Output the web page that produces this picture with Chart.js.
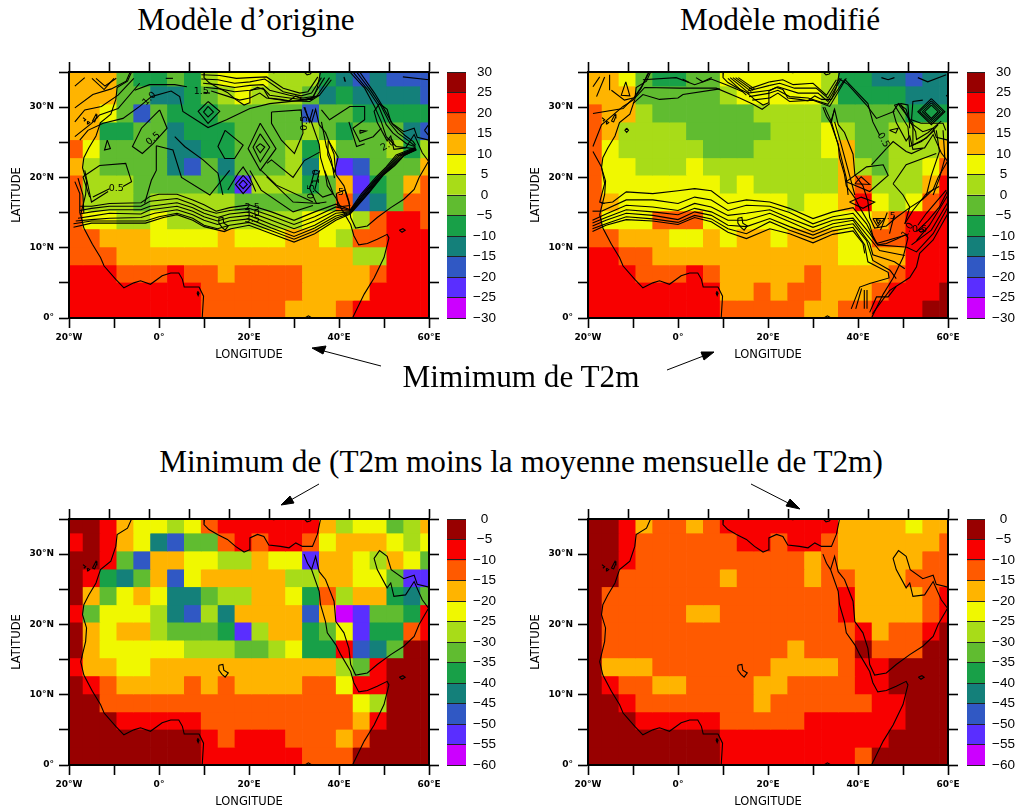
<!DOCTYPE html>
<html lang="fr"><head><meta charset="utf-8"><title>T2m</title>
<script src="https://cdn.jsdelivr.net/npm/chart.js@4"></script>
<style>
html,body{margin:0;padding:0;background:#fff;width:1021px;height:811px;overflow:hidden}
canvas{position:absolute}
.t{position:absolute;font-family:"Liberation Serif",serif;font-size:31.2px;color:#000;white-space:nowrap;transform:translate(-50%,-50%);line-height:1}
svg{position:absolute;left:0;top:0}
</style></head><body>
<canvas id="m1" width="445" height="302" style="left:0;top:60px"></canvas>
<canvas id="m2" width="445" height="302" style="left:519px;top:60px"></canvas>
<canvas id="m3" width="445" height="302" style="left:0;top:507px"></canvas>
<canvas id="m4" width="445" height="302" style="left:519px;top:507px"></canvas>
<canvas id="c1" width="70" height="302" style="left:440px;top:60px"></canvas>
<canvas id="c2" width="61" height="302" style="left:960px;top:60px"></canvas>
<canvas id="c3" width="70" height="302" style="left:440px;top:507px"></canvas>
<canvas id="c4" width="61" height="302" style="left:960px;top:507px"></canvas>
<div class="t" style="left:246px;top:20px">Modèle d’origine</div>
<div class="t" style="left:780px;top:20px">Modèle modifié</div>
<div class="t" style="left:521px;top:377px">Mimimum de T2m</div>
<div class="t" style="left:521px;top:462px">Minimum de (T2m moins la moyenne mensuelle de T2m)</div>
<svg width="1021" height="811">
<g stroke="#000" stroke-width="1" fill="#000">
<line x1="381" y1="366" x2="320" y2="350"/><polygon points="312,348 326,346 323,354"/>
<line x1="667" y1="370" x2="706" y2="355"/><polygon points="714,352 704,360 701,352"/>
<line x1="319" y1="484" x2="289" y2="501"/><polygon points="281,505 290,496 294,503"/>
<line x1="751" y1="484" x2="792" y2="505"/><polygon points="800,509 786,506 790,499"/>
</g></svg>
<script>
const lonCentres=[-18.75,-15,-11.25,-7.5,-3.75,0,3.75,7.5,11.25,15,18.75,22.5,26.25,30,33.75,37.5,41.25,45,48.75,52.5,56.25,60];
const latEdges=[35,33,30.44,27.87,25.36,22.79,20.32,17.76,15.24,12.68,10.11,7.55,5.08,2.52,0];
const levelColors=['#cc00ff','#5a2eff','#3058c4','#14807a','#18a048','#60bc30','#a8dc18','#f0f800','#ffb400','#ff5a00','#f80000','#980000'];
const xTickValues=[-20,-10,0,10,20,30,40,50,60];
const xTickLabels=['20°W','','0°','','20°E','','40°E','','60°E'];
const yTickLabels=['0°','','10°N','','20°N','','30°N',''];
const levelsA=[30,25,20,15,10,5,0,-5,-10,-15,-20,-25,-30];
const levelsB=[0,-5,-10,-15,-20,-25,-30,-35,-40,-45,-50,-55,-60];

const t2mOrigine=[
[10,10,10,-5,-10,-10,-5,-10,0,5,5,5,0,0,0,-10,-15,-20,-15,-20,-20,-20],
[10,10,10,-5,-5,-15,-15,-10,-5,0,5,0,0,0,-5,-15,-10,-15,-15,-15,-15,-20],
[10,10,5,-5,-20,-5,-10,-10,-10,-5,-5,-5,-5,-5,-20,-5,-5,-10,-10,-10,-10,-10],
[10,10,-10,-10,-5,-5,-15,-10,-10,-10,-5,-5,-5,-5,0,-5,-10,-5,-5,-5,-15,-20],
[15,5,-5,-5,-5,-5,-15,-15,-10,-10,-5,-5,-5,0,-10,5,-5,-5,-5,0,-10,0],
[10,0,-5,-5,-5,-5,-15,-20,-5,-15,-5,-5,-5,0,-15,5,-25,-20,-5,-5,-5,10],
[15,0,0,0,-5,-5,-5,-5,-5,-10,-25,0,0,0,-10,-5,10,-25,-10,-5,10,15],
[15,0,0,0,-5,0,0,0,0,0,-5,-5,-5,-5,-5,-5,15,-20,-15,-5,15,15],
[15,5,5,0,0,5,0,0,0,0,0,0,0,0,5,5,5,0,15,20,20,15],
[15,15,10,10,10,5,5,5,5,10,5,5,5,10,10,5,0,15,15,20,20,20],
[15,15,15,10,10,10,10,10,10,10,10,10,10,10,10,10,10,0,0,20,20,20],
[20,20,20,15,15,15,20,15,15,10,15,15,15,15,10,10,10,10,15,20,20,20],
[20,20,20,20,20,20,20,20,15,15,15,15,15,15,10,10,10,10,20,20,20,20],
[20,20,20,20,20,20,20,20,15,15,15,15,15,10,10,10,15,20,20,20,20,20]];
const t2mModifie=[
[10,10,5,-5,-10,-10,-5,-5,5,5,5,5,5,5,0,-10,-10,-15,-15,-20,-15,-15],
[10,10,10,-5,-5,-5,-5,-5,0,5,5,5,5,5,0,-10,-10,-10,-10,-15,-15,-15],
[15,10,10,0,-5,-5,-5,-5,-5,-5,0,0,0,0,-5,-5,-5,-5,-5,-10,-10,-10],
[15,10,0,0,0,0,-5,-5,-5,-5,-5,0,0,0,5,0,-5,-5,0,0,0,0],
[15,5,0,0,0,0,0,-5,-5,-5,0,0,0,0,5,10,-5,-5,0,0,0,10],
[15,5,5,0,0,0,5,0,0,0,0,0,0,0,0,10,0,-5,0,0,5,15],
[15,5,5,5,5,5,5,5,0,5,0,0,0,0,0,10,15,0,0,0,10,20],
[15,10,5,5,5,5,5,5,5,5,5,5,0,5,5,10,20,5,0,5,15,20],
[15,5,5,5,15,15,15,5,5,5,5,5,5,5,5,5,5,10,15,20,20,20],
[15,15,10,10,10,5,5,10,5,10,10,5,10,10,10,5,5,15,15,20,20,20],
[20,20,15,15,10,10,10,10,10,10,10,10,10,10,10,5,5,10,10,20,20,20],
[20,20,20,15,15,15,20,15,10,10,10,10,10,15,10,10,10,10,15,20,20,20],
[20,20,20,20,20,20,20,20,10,10,15,10,15,15,10,10,10,15,20,20,20,25],
[20,20,20,20,20,20,20,20,15,15,15,15,15,10,10,15,15,20,20,20,25,25]];
const anomOrigine=[
[-5,-5,-10,-20,-25,-25,-30,-25,-15,-10,-10,-10,-10,-10,-10,-20,-30,-25,-25,-35,-30,-20],
[-10,-5,-10,-20,-25,-45,-50,-35,-35,-15,-10,-15,-10,-10,-15,-25,-20,-20,-20,-25,-30,-25],
[-5,-5,-10,-35,-50,-20,-20,-25,-25,-30,-30,-20,-25,-25,-55,-20,-20,-25,-30,-20,-25,-35],
[-5,-10,-40,-45,-35,-20,-50,-25,-20,-20,-20,-20,-20,-30,-30,-20,-20,-25,-25,-35,-55,-55],
[-5,-20,-35,-25,-20,-25,-45,-45,-35,-30,-30,-20,-20,-25,-40,-15,-30,-20,-20,-40,-45,-35],
[-10,-35,-25,-25,-25,-30,-45,-50,-30,-45,-20,-20,-20,-20,-50,-20,-60,-55,-35,-35,-40,-10],
[-5,-20,-25,-20,-20,-30,-35,-35,-35,-40,-55,-30,-20,-20,-40,-35,-25,-55,-40,-40,-15,-10],
[-5,-20,-25,-25,-25,-25,-25,-30,-30,-30,-35,-35,-30,-25,-40,-40,-10,-50,-45,-35,-5,-5],
[-10,-20,-20,-25,-25,-20,-20,-20,-20,-20,-20,-20,-20,-20,-20,-20,-30,-35,-10,-5,-5,-5],
[-5,-10,-15,-20,-20,-20,-20,-15,-20,-15,-20,-20,-20,-20,-15,-15,-25,-10,-10,-5,-5,-5],
[-5,-5,-15,-15,-15,-15,-15,-15,-15,-15,-15,-15,-15,-15,-15,-15,-15,-25,-30,-5,-5,-5],
[-5,-5,-5,-10,-10,-10,-10,-10,-15,-15,-15,-15,-15,-15,-15,-15,-15,-20,-10,-5,-5,-5],
[-5,-5,-5,-5,-5,-5,-5,-5,-10,-15,-10,-10,-10,-15,-15,-15,-20,-15,-5,-5,-5,-5],
[-5,-5,-5,-5,-5,-5,-5,-5,-10,-10,-10,-10,-10,-10,-15,-15,-15,-5,-5,-5,-5,-5]];
const anomModifie=[
[-5,-5,-10,-20,-15,-15,-20,-15,-10,-10,-10,-10,-10,-10,-10,-20,-20,-20,-20,-25,-20,-20],
[-5,-5,-10,-15,-15,-15,-15,-15,-15,-10,-10,-15,-10,-10,-15,-20,-20,-20,-20,-20,-20,-15],
[-5,-5,-10,-15,-15,-15,-15,-15,-15,-15,-15,-15,-15,-20,-15,-20,-20,-20,-20,-20,-15,-15],
[-5,-5,-15,-15,-15,-15,-15,-15,-20,-15,-15,-15,-15,-20,-15,-15,-20,-20,-20,-15,-15,-15],
[-5,-15,-15,-15,-15,-15,-15,-15,-15,-15,-15,-15,-15,-15,-15,-10,-20,-20,-20,-20,-15,-10],
[-5,-15,-15,-15,-15,-15,-20,-20,-15,-15,-15,-15,-15,-15,-15,-10,-20,-20,-20,-20,-15,-10],
[-5,-15,-15,-15,-15,-15,-15,-15,-15,-15,-15,-15,-15,-15,-15,-15,-10,-20,-15,-15,-10,-5],
[-5,-15,-15,-15,-15,-15,-15,-15,-15,-15,-15,-15,-20,-15,-15,-15,-5,-15,-15,-15,-5,-5],
[-5,-20,-20,-20,-15,-15,-15,-15,-15,-15,-15,-20,-20,-20,-20,-15,-10,-10,-5,-5,-5,-5],
[-5,-10,-15,-15,-20,-20,-15,-15,-15,-15,-20,-20,-15,-15,-15,-15,-10,-10,-5,-5,-5,-5],
[-5,-5,-10,-15,-15,-15,-15,-15,-15,-15,-20,-15,-15,-15,-15,-15,-15,-10,-10,-5,-5,-5],
[-5,-5,-5,-10,-10,-10,-10,-10,-15,-15,-15,-15,-15,-10,-10,-10,-10,-10,-10,-5,-5,-5],
[-5,-5,-5,-5,-5,-5,-5,-5,-10,-10,-10,-10,-10,-10,-10,-10,-10,-10,-5,-5,-5,-5],
[-5,-5,-5,-5,-5,-5,-5,-5,-10,-10,-10,-10,-10,-10,-10,-10,-15,-5,-5,-5,-5,-5]];

const coast=[
[[-6.1,35],[-7,33.7],[-9.3,32.8],[-9.6,31.1],[-10.7,29],[-13,27.8],[-14,25.9],[-15.6,24.2],[-16.7,22.8],[-17,21.4],[-16.1,19.5],[-16.3,17.6],[-17.4,14.7],[-16.7,12.8],[-14.8,10.5],[-13,8.6],[-12.2,7.4],[-9.6,5.5],[-7.8,4.3],[-5.6,5],[-4.1,5.3],[-1.9,4.8],[0.7,6],[2.6,6.4],[4.4,6.4],[5.2,5.5],[5.6,4.4],[8.9,4.4],[9.9,3.1],[9.6,0]],
[[10.1,35],[10,34.2],[11.1,33.5],[13,32.8],[15.2,32.1],[17,31.1],[18.9,30.3],[20,30.6],[20.2,32.3],[21.9,32.8],[23.3,32.5],[24.4,31.3],[27,31.1],[28.9,30.9],[30.4,31.6],[31.9,31.1],[34.1,31.1],[35.2,32.8],[35.9,35]],
[[32.2,30],[33,28.7],[33.9,27.8],[35.6,24.7],[35.9,22.8],[37,20.4],[37.4,18.8],[39.3,17.1],[40.4,15.7],[42.6,13.3],[43.3,11.7],[44.4,10.4],[46.3,10.6],[48.5,11.2],[50.7,11.9],[51.1,11.4],[50,8.6],[47.8,5.7],[45.6,3.4],[43,0]],
[[33.9,27.8],[34.8,29.7],[35.6,27.5],[37,26.4],[38.9,23.3],[39.3,20.4],[41.1,18.8],[42.2,16.6],[42.6,14.3],[43.7,12.8],[46.3,13.1],[48.5,14.3],[51.5,15.7],[54.4,16.9],[56.7,18.3],[57.8,20],[59.9,22.3],[58.5,23.5],[56.7,26.1],[54.8,24.2],[52.2,24],[51.5,25.9],[50.7,25.2],[48.5,27.8],[47.8,29.4],[49,30.5],[50.7,29.7],[51.6,27.8],[54.4,26.5],[56.7,27],[57.4,25.7],[60,25.3]],
[[13.3,14.2],[14.2,14.3],[14.4,13.5],[15.4,13.1],[14.7,12.5],[14,12.9],[13.3,13.5],[13.3,14.2]],
[[-16.9,28.5],[-16.3,28.2],[-16.7,28]],[[-15.9,28],[-15.4,27.8],[-15.8,27.6],[-15.9,28]],[[-14.8,28],[-14,29],[-13.8,28.7],[-14.3,27.9],[-14.8,28]],
[[8.6,3.8],[8.9,3.5],[8.7,3.2],[8.5,3.5],[8.6,3.8]],
[[53.4,12.5],[54.2,12.7],[54.7,12.5],[54,12.2],[53.4,12.5]],
[[32.3,35],[32.9,34.6],[33.6,34.7],[34,35]],[[24.6,35],[25.5,34.9],[26.4,35]],[[32.4,0],[33.2,0.3],[34,0]]];

const contoursOrigine=[
[[-17.5,15.9],[-15,15.9],[-11,16.3],[-4,16.4],[-2,17.3],[0,17.6],[4,17.6],[7.5,16.8],[10,16.1],[12.7,15.2],[15.7,15.7],[20,16.1],[25,15.1],[30,13.9],[34.6,15.1],[39.3,16.2],[42.5,15.4],[45,17.7],[48.3,20.1],[50.5,21.5],[52.7,23.2],[57,24.3]],
[[-17.6,15.3],[-15,15.6],[-11,15.9],[-4,15.9],[-2,16.6],[4,17],[7.5,16.2],[10,15.4],[12.7,14.9],[15.7,15.3],[20,15.6],[25,14.5],[30,13.3],[34.6,14.4],[39.3,15.8],[42.5,15.3],[45.2,17.6],[48.5,20],[50.8,21.5],[53,23.1],[57,24.2]],
[[-17.7,14.8],[-15,15.1],[-11,15.4],[-4,15.4],[-2,15.9],[4,16.4],[7.5,15.7],[10,14.9],[13,14.3],[15.7,14.8],[20,15.1],[25,13.9],[30,12.7],[34.6,13.8],[39.3,15.3],[42.5,15.2],[45.5,17.6],[48.8,20.1],[51.1,21.5],[53.4,23.1],[57,24.1]],
[[-18,14.2],[-15,14.5],[-11,14.9],[-4,14.8],[-2,15.4],[4,15.9],[7.5,15.2],[10,14.4],[13,13.8],[15.7,14.3],[20,14.6],[25,13.3],[30,12.1],[34.6,13.2],[39.3,14.9],[42.5,15.1],[45.8,17.7],[49.1,20.1],[51.5,21.6],[53.8,23.1],[57.1,24.1]],
[[-18.5,13.8],[-15,14],[-11,14.2],[-4,14.3],[-1,14.9],[4,15.4],[7.5,14.7],[10,13.9],[13,13.3],[15.7,13.8],[20,14.1],[25,12.8],[30,11.6],[34.6,12.8],[39.3,14.5],[42.5,15],[46.1,17.7],[49.4,20.2],[51.8,21.6],[54.2,23.1],[57.1,24]],
[[-19,13.4],[-15,13.8],[-8,13.8],[-3,13.8],[0,14.4],[4,14.9],[7.5,14.2],[10,13.2],[13,12.7],[15.7,13.2],[20,13.6],[25,12.4],[30,11.2],[34.6,12.4],[39.3,14.2],[42.5,14.9],[46.5,17.8],[49.6,20.3],[52.1,21.6],[54.4,23.1],[57.2,24]],
[[-19,12.9],[-15,13.5],[-8,13.5],[-3,13.5],[1,14.3],[4,14.7],[7.5,13.9],[10,13],[14.5,12.3],[16,12.7],[20,13.2],[25,12],[30,10.8],[34.6,12],[39.3,13.9],[42.5,14.8],[46.8,17.9],[49.8,20.3],[52.4,21.7],[54.6,23.2],[57.2,23.9]],
[[42.4,35],[45.7,32.7],[47.9,30.1],[49.4,27.9],[50.5,25.8],[52.7,24.4],[56.8,24.1]],
[[43.1,35],[46.5,32.4],[48.7,30.3],[50.5,27.5],[52,26.3],[55,24.8],[56.8,24.4]],
[[43.9,35],[47.2,32.2],[49.4,30.1],[51.3,27.7],[53.1,26.3],[55.7,25.1],[57,24.4]],
[[44.6,35],[47.9,32],[49.8,30],[52,27.5],[54.6,26],[56.5,25.1],[57,24.6]],
[[-6.4,35],[-7.3,33.7],[-10.6,32.6],[-14.7,31.8],[-18.7,29.9]],
[[-5.6,34.1],[-9.1,31.7],[-12.8,30.1],[-16.5,29.6],[-18.7,27.9]],
[[-4.3,33.4],[-9.1,29.8],[-13.2,28.9],[-15,27.7],[-18.7,25.8]],
[[-1.7,31.5],[-4.3,30.1],[-8,28.4],[-12.4,27.7],[-15.8,26.7],[-17.6,25.3]],
[[-5.4,32.4],[-2.1,33.2],[3.5,33.2],[6.2,32.9]],[[9.9,32.1],[11.3,32]],
[[-1.7,31.5],[2.7,32.3],[4.6,31.5],[5.3,29.4],[10.9,27.1],[15,28.2],[20.2,29.8],[24.6,30.5],[32,31],[35.7,31.7]],
[[9.4,34.6],[13.5,34.5],[17.2,34.1],[20.2,34.2],[23.9,34.3],[27.6,32.7],[31.3,32],[33.1,32.2],[35.3,34.3]],
[[9.4,34],[13.1,33.9],[16.8,33.4],[20.2,33.6],[23.5,34],[27.6,32.2],[31.6,31.6],[33.9,32],[36.1,34.2]],
[[9.8,33.4],[13.1,33.2],[16.8,32.8],[20.2,33.1],[23.1,33.2],[24.6,32.4],[29,31.7],[32,31.3],[34.2,31.5],[36.8,34.2]],
[[10.5,32.8],[13.5,32.6],[16.8,32.2],[20.2,32.4],[23.1,32.7],[24.6,31.7],[29,31.3],[32.7,31],[35,31.5],[37.9,34.2]],
[[11.6,32.3],[15,31.6],[17.9,31],[20.2,31.3],[22.4,32],[23.9,31.3],[28.3,30.9],[33.5,30.8],[35.7,31.7],[38.3,33.9]],
[[10.9,30.8],[13.5,29.4],[10.9,27.7],[8.7,29.4],[10.9,30.8]],[[10.9,30.1],[12.1,29.3],[10.9,28.6],[9.9,29.3],[10.9,30.1]],
[[-11.5,25.3],[-10.8,24.1],[-12.1,23.9],[-11.5,25.3]],
[[0.15,29.6],[1.8,27],[-1.3,24.8],[-3.7,23.4],[-5.9,24.4],[-3.9,27],[0.15,29.6]],
[[14.7,26.7],[18.7,24.6],[16.8,22.7],[14.6,22.7],[13.1,24.4],[14.7,26.7]],
[[-16.9,20.1],[-13.2,21.7],[-7.4,22],[-6.1,19.4],[-8,18.7]],[[-11,18.4],[-14.7,17.2]],[[-16.9,20.1],[-15.4,17.2]],
[[22.5,27.7],[26,24.1],[22.5,21],[19.8,24.1],[22.5,27.7]],[[22.5,26.2],[24.6,24.3],[22.5,22.2],[20.9,24.3],[22.5,26.2]],[[22.5,24.8],[23.5,24.3],[22.5,23.5],[21.6,24.3],[22.5,24.8]],
[[18.7,20.3],[20.5,19],[18.7,17.7],[17,19],[18.7,20.3]],[[18.7,19.6],[19.6,19],[18.7,18.4],[17.8,19],[18.7,19.6]],
[[15.3,18.2],[17.6,20.6],[18.7,21.5],[20.1,20.1],[21.5,18]],
[[25,29.3],[31.6,29.6],[32,26.3],[30.1,23.4],[27.2,25.3],[25,27.7],[25,29.3]],
[[24,22],[25,22.5],[29.8,20],[32.3,22.4],[35.7,23.6]],
[[23.9,20.1],[29.8,16.5],[35.7,16.3]],
[[34.6,21],[33.5,18.4],[35,16.3],[37.2,16.5]],[[35.7,21],[34.6,18.2],[36.4,17.2],[38.7,17.7],[37.9,19.1],[36.8,21]],
[[22.7,21],[26.1,18.9],[34.2,16.5]],[[20.2,21],[22.7,18.2],[29.8,15.1],[34.2,16]],
[[39.4,17.7],[41.3,18.2],[42.4,16],[39.8,15.8],[39.4,17.7]],
[[36.1,29.6],[37.9,28.2],[42.4,30.1],[45.7,30.1],[45.7,28.2],[43.1,27],[44.6,25.1],[47.6,25.8],[49.4,27]],
[[44.6,26.7],[46,26.6],[44.7,26.3],[44.6,26.7]],[[42.2,27.9],[43.9,24.4],[45.7,24.8]],
[[36.1,27.9],[37.2,24.4],[38.3,22.5],[39,19.9]],[[37.6,25.3],[39.8,22.9],[39,20.8],[37.5,23.2],[37.6,25.3]],
[[41.1,34.3],[41.3,33.7]],[[54.2,34.3],[60,33.9]],[[59,26.7],[59.9,27.5],[59.9,26],[59,26.7]],
[[-18.7,19.4],[-17.6,17.7],[-17.6,14.9]],[[-18,19.9],[-16.9,17.5],[-16.7,14.9]],
[[-16.5,21],[-15,16.5],[-11.3,18]],
[[-0.6,24.5],[3.1,23.9],[5,20],[11.3,17.5],[15.7,21]],[[-0.6,24.5],[-0.6,21],[-1.7,19.6],[-3.2,16.3]],
[[3.5,25.8],[5.7,24.4],[9.8,22.5],[13.1,20.6],[14.2,17.5]],
[[-18.7,33],[-16.5,34.2]],[[-14.9,34.1],[-12.2,32.5],[-10,34.1]],[[-14,34.1],[-12,33],[-9.5,34.1]],[[1.5,34.1],[3.1,34.1]],
[[32.4,30],[33.4,27.9],[34.2,29.7]],[[41.2,34.2],[41.4,33.6]]];

const contoursModifie=[
[[-17,16.3],[-14.5,16.5],[-11.5,17.95],[-5.6,17.7],[0,18.1],[3.7,18.4],[7.4,18.1],[11.1,16.3],[15.2,16.8],[20.4,16.5],[24.8,15.6],[30,14.15],[34.4,15.1],[38.9,15.7],[41.9,13.4],[44.1,10.6],[50.7,11.8]],
[[-17,15.2],[-11.5,16.8],[-5.6,16.8],[0,16.3],[3.7,17.2],[7.4,16.8],[11.1,15.3],[15.2,16.05],[20.4,15.9],[24.8,15],[30,13.4],[34.4,14.4],[38.9,14.9],[42.6,12],[44.4,10.4],[50.4,10.1]],
[[-19,13.9],[-16,14.8],[-11.5,16.05],[-5.6,15.8],[0,15.3],[3.7,16.3],[7.4,15.8],[11.1,14.6],[15.2,14.9],[20.4,15.4],[24.8,14.2],[30,12.9],[34.4,13.9],[38.9,14.2],[42.9,11.1],[44.8,9.6],[50.4,8.9]],
[[-19,13.5],[-16,14.3],[-11.5,15.4],[-5.6,15.1],[0,14.7],[3.7,15.6],[7.4,15.1],[11.1,13.9],[15.2,13.9],[20.4,14.9],[24.8,13.7],[30,12.25],[34.4,13.4],[38.9,13.9],[42.6,10.6],[43.3,9],[48.1,8],[50.4,7]],
[[-19,13.1],[-16,13.9],[-11.5,14.9],[-5.6,14.6],[0,14],[3.7,15.1],[7.4,14.6],[11.1,13.2],[15.2,13],[20.4,14.15],[24.8,13],[30,11.8],[34.4,12.9],[38.9,13.4],[41.9,11],[43.3,8.2],[47.1,6.8],[48.5,5.6]],
[[-19,12.7],[-16,13.4],[-11.5,14.4],[-5.6,14.1],[0,13.6],[3.7,14.6],[7.4,14.1],[11.1,12.7],[15.2,12],[20.4,13.7],[24.8,12.5],[30,11.3],[34.4,12.4],[38.9,12.9],[41.5,10.4],[42.2,8],[46.7,6.5],[46.9,5.7],[42.6,4.9],[40.4,4.4],[38.5,1.3]],
[[-19,12.3],[-16,13.2],[-11.5,14],[-5.6,13.8],[0,13.3],[3.7,14.3],[7.4,13.7],[11.1,12.2],[15.2,11.3],[20.4,12.7],[24.8,12],[30,10.7],[34.4,11.9],[38.9,12.4],[41.1,10.6],[41.5,9.2]],
[[-19,15.2],[-17,15.2]],
[[43.2,0.6],[47,3.9],[51.5,5.75],[53,7.3],[53.7,9.2],[56.7,11.1],[60,14.9]],
[[50.7,10.1],[53,9.4],[56.7,12],[60,15.8]],[[51.9,10.4],[56.3,12.5],[60,16.5]],[[53,11],[55.9,13.2],[60,17.5]],
[[53,12.3],[55.6,13.9],[58.1,15.8],[60,18.2]],[[53.3,13.2],[55.2,14.9],[59.6,18.2]],[[50.4,13.4],[52.2,15.3],[55.2,17.7],[58,18.7]],
[[40.8,4.2],[39.5,1.3]],[[41.4,4],[41.4,1.3]],[[42,4],[42,1.3]],[[42.6,0.8],[44.1,3],[46.7,3],[48.5,4.5]],
[[20.4,33.6],[23.3,33.9],[25.6,33.2],[30,33.4],[33,31.7],[35.2,33.9]],
[[20.4,33.1],[22.6,33.4],[25.9,32.7],[30.7,32.7],[33.3,31.3],[35.9,34.1]],
[[20.4,32.4],[22.2,32.9],[26.7,32],[31.1,32],[33.3,30.8],[36.3,34.1]],
[[20.4,32],[22.2,32.4],[24.8,31.5],[28.9,31.3],[33.3,30.4],[37,33.9]],
[[20.4,31.3],[22.2,32],[24.8,30.8],[30,31],[33.7,30.1],[37.4,34.1]],
[[15.8,32.6],[20.4,33.6]],[[15.5,32.3],[20.4,33.1]],[[15.5,32],[20.4,32.4]],[[15.8,31.5],[20.4,32]],[[16.5,31],[20.4,31.3]],
[[-7.8,33.9],[-0.4,34.2],[3.7,33.2],[7.4,34],[10.7,33.2],[14.4,32.2]],
[[-9.6,31.3],[-7.4,32.8],[0.4,32.7],[3.7,32.7],[8.5,32.7],[13.7,31.3],[16.7,30.4],[18.7,29.7],[20.4,30.5]],
[[-10,30.5],[-7.8,31.8],[-4.1,31.1],[0,31.3],[1.1,31.8],[9.3,32.6]],
[[11.1,34.1],[15.2,31.7]],[[11.6,34.2],[15.8,32]],[[12.2,34.2],[16.3,32.2]],[[12.8,34.2],[16.7,32.4]],[[13.4,34.2],[17,32.6]],
[[-18.9,32.9],[-17.4,34.3]],[[-18.1,31.5],[-16.3,34.3]],
[[-11.6,33.6],[-10.7,31.6],[-12.6,31.7],[-11.6,33.6]],[[-15.2,34.6],[-15.2,32.4]],
[[-18.9,29.1],[-12.2,29.8],[-9.6,31.5],[-7.8,33.2],[-6.4,35]],
[[-18.9,24.4],[-17,27.5],[-12.2,30.1],[-10,31],[-8.2,32.7],[-6.7,34.8]],
[[-14.8,32.4],[-11.9,31],[-10,31.3]],
[[-11.4,27],[-11,26.7],[-11.4,26.4],[-11.8,26.7],[-11.4,27]],
[[-18.9,23.7],[-17,21.5],[-16.3,19.1],[-17.4,16.5],[-16.3,16.3]],
[[4,34.2],[5.5,33.6],[7.5,34.2]],[[1,34],[2.5,33.5]],
[[32.6,30],[34.1,27.9],[34.8,29.8]],
[[34.1,27.9],[35.6,24.6],[37.4,19.9],[37.8,17.5]],[[34.8,27.9],[36.3,24.6],[38.5,19.4],[39.3,17.5]],
[[37.4,19.4],[41.9,21.5],[45.6,21.8],[46.7,20.3],[42.6,18],[37.4,19.4]],[[39.3,19.1],[42.6,19],[40.7,20.1],[39.3,19.1]],
[[35.9,34],[37.8,33.2],[41.9,30.3],[44.1,28.4],[48.1,29.4]],
[[37,34],[42.2,30.5],[43.3,27.9],[44.8,26]],[[46.3,24.1],[43,21.8]],
[[48.1,30.3],[49.6,30.5],[51.1,30.3],[51.5,27]],
[[48.1,30.3],[51.1,27.2],[51.5,24.4],[54.1,25.1],[57,26.7]],[[48.9,30.5],[52.2,27.7],[52.2,24.6],[55.2,25.6],[57.8,27.5]],
[[49.6,30.3],[52.8,26.5],[53,25.4],[55.6,26.4],[58.5,28]],
[[47,26.7],[48.9,27],[48.4,26.3],[47,26.7]],
[[54.4,31],[52.2,30.8],[51.9,28.2],[54,27.7],[58.9,27.7],[59.5,26.7]],
[[57.4,26.7],[58.1,23.7],[56.3,20.3],[55.2,17.5]],[[58.9,26.7],[59.3,22.7],[58.1,19.9],[56.7,17.5]],
[[47.8,19.1],[50.7,21.8],[57.4,23.4]],[[47.8,19.1],[50,17.5],[51.5,15.8],[50.4,13.4]],
[[46.3,24.1],[47.8,25.1],[50.7,23.7],[51.9,23.4],[54.4,24.1]],
[[45.2,34.2],[46.7,33.9],[48.1,34.2]],[[53.3,34.2],[55.5,33.6],[59.6,34.6]],[[59.6,31.7],[60,31.4]],
[[56.3,31.2],[59.3,29.35],[56.3,27.5],[53.3,29.35],[56.3,31.2]],[[56.3,30.9],[58.9,29.35],[56.3,27.8],[53.7,29.35],[56.3,30.9]],[[56.3,30.6],[58.3,29.35],[56.3,28.1],[54.3,29.35],[56.3,30.6]],[[56.3,30.3],[57.8,29.35],[56.3,28.4],[54.8,29.35],[56.3,30.3]],
[[38.1,16.5],[40.7,17.2],[43.7,16.5],[41.1,15.6],[38.1,16.5]],
[[43.3,14.15],[45.9,14.15],[44.4,13],[43.3,14.15]],[[44,14],[45,13.9],[44.5,13.4],[44,14]],
[[46.5,15],[45,12.5]],[[48,14.5],[47,12]]];

const labelsOrigine=[
{lon:9.4,lat:32.2,text:'1.5',rot:0},{lon:-2.1,lat:31.2,text:'1.0',rot:-45},{lon:-1.3,lat:25.5,text:'0.5',rot:-40},
{lon:-9.5,lat:18.4,text:'0.5',rot:0},{lon:20.7,lat:15.7,text:'2.5',rot:0},{lon:20.7,lat:14.9,text:'3.0',rot:0},{lon:20.7,lat:14,text:'3.5',rot:0},
{lon:33.9,lat:18,text:'0.5',rot:-90},{lon:35,lat:20.1,text:'1.0',rot:-90},{lon:32.4,lat:27.7,text:'0.5',rot:-90},{lon:50.9,lat:24.6,text:'2.0',rot:-30},{lon:40.1,lat:17.8,text:'.5',rot:0}];
const labelsModifie=[
{lon:45.6,lat:25.3,text:'0.5',rot:60},{lon:51.1,lat:12.5,text:'1.0',rot:-60},{lon:53.7,lat:12.6,text:'0.5',rot:0},{lon:47.4,lat:14.5,text:'.5',rot:0}];

const axisFont={family:'"DejaVu Sans"',size:9,weight:'bold'};
const contourText={id:'contourText',afterDatasetsDraw(chart,args,opts){
  const g=chart.ctx;g.save();g.font='9.5px "DejaVu Sans"';g.fillStyle='#000';g.textAlign='center';g.textBaseline='middle';
  (opts.items||[]).forEach(l=>{g.save();g.translate(chart.scales.x.getPixelForValue(l.lon),chart.scales.y.getPixelForValue(l.lat));g.rotate(l.rot*Math.PI/180);g.fillText(l.text,0,0);g.restore();});
  g.restore();}};
const grid={drawOnChartArea:false,tickLength:10,tickWidth:1.6,tickColor:'#000',z:1};
const border={display:true,width:2,color:'#000',z:1};

function mapChart(id,values,lowest,contours,labels){
  const lines=coast.concat(contours).map(p=>({type:'scatter',showLine:true,data:p.map(q=>({x:q[0],y:q[1]})),borderColor:'#000',borderWidth:1.1,pointRadius:0,tension:0,fill:false,order:0,xAxisID:'x',yAxisID:'y'}));
  const bars=values.map((row,r)=>({type:'bar',grouped:false,barPercentage:1,categoryPercentage:1,borderWidth:0,order:1,xAxisID:'x',yAxisID:'y',
    data:row.map((v,c)=>({x:lonCentres[c],y:[latEdges[r+1],latEdges[r]]})),
    backgroundColor:row.map(v=>levelColors[Math.round((v-lowest)/5)])}));
  new Chart(document.getElementById(id),{type:'bar',plugins:[contourText],data:{datasets:lines.concat(bars)},options:{
    responsive:false,animation:false,devicePixelRatio:1,events:[],
    layout:{padding:0},
    plugins:{legend:{display:false},tooltip:{enabled:false},contourText:{items:labels}},
    scales:{
      x:{type:'linear',position:'bottom',offset:false,min:-20,max:60,grid:{...grid,offset:false},border,
        afterBuildTicks:s=>{s.ticks=xTickValues.map(v=>({value:v}));},
        afterFit:s=>{s.height=44;},
        ticks:{autoSkip:false,maxRotation:0,minRotation:0,padding:4,color:'#000',font:axisFont,callback:(v,i)=>xTickLabels[i]},
        title:{display:true,text:'LONGITUDE',color:'#000',font:{family:'"DejaVu Sans"',size:11.5},padding:{top:0,bottom:0}}},
      y:{type:'linear',position:'left',min:0,max:35,grid,border,
        afterFit:s=>{s.width=69;},
        ticks:{stepSize:5,autoSkip:false,padding:5,color:'#000',font:axisFont,callback:(v,i)=>yTickLabels[i]},
        title:{display:true,text:'LATITUDE',color:'#000',font:{family:'"DejaVu Sans"',size:11.5},padding:{top:10,bottom:0}}},
      xTop:{type:'linear',position:'top',min:-20,max:60,grid,border,afterFit:s=>{s.height=12;},
        afterBuildTicks:s=>{s.ticks=xTickValues.map(v=>({value:v}));},ticks:{display:false}},
      yRight:{type:'linear',position:'right',min:0,max:35,grid,border,afterFit:s=>{s.width=16;},ticks:{display:false,stepSize:5}}
    }}});
}
function barChart(id,levels,leftPad){
  const edges=levels.slice().reverse();
  const data=edges.slice(0,-1).map(lo=>({x:0.5,y:[lo,lo+5]}));
  new Chart(document.getElementById(id),{type:'bar',data:{datasets:[{data,backgroundColor:levelColors,barPercentage:1,categoryPercentage:1,borderWidth:0}]},options:{
    responsive:false,animation:false,devicePixelRatio:1,events:[],
    layout:{padding:{left:leftPad,top:12,bottom:44,right:0}},
    plugins:{legend:{display:false},tooltip:{enabled:false}},
    scales:{
      x:{type:'linear',display:false,offset:false,min:0,max:1},
      y:{type:'linear',position:'right',min:edges[0],max:edges[edges.length-1],
        afterFit:s=>{s.width=id==='c1'||id==='c3'?44:36;s.paddingTop=0;s.paddingBottom=0;},
        grid:{drawOnChartArea:true,drawTicks:false,tickLength:0,color:'#222',lineWidth:1,z:1},border:{display:false},
        ticks:{stepSize:5,autoSkip:false,padding:7,crossAlign:'center',color:'#000',font:{family:'"Liberation Sans"',size:13.5},
          callback:v=>String(v).replace('-','−')}}
    }}});
}
mapChart('m1',t2mOrigine,-30,contoursOrigine,labelsOrigine);
mapChart('m2',t2mModifie,-30,contoursModifie,labelsModifie);
mapChart('m3',anomOrigine,-60,[],[]);
mapChart('m4',anomModifie,-60,[],[]);
barChart('c1',levelsA,7);barChart('c2',levelsA,7);barChart('c3',levelsB,7);barChart('c4',levelsB,7);
</script>
</body></html>
